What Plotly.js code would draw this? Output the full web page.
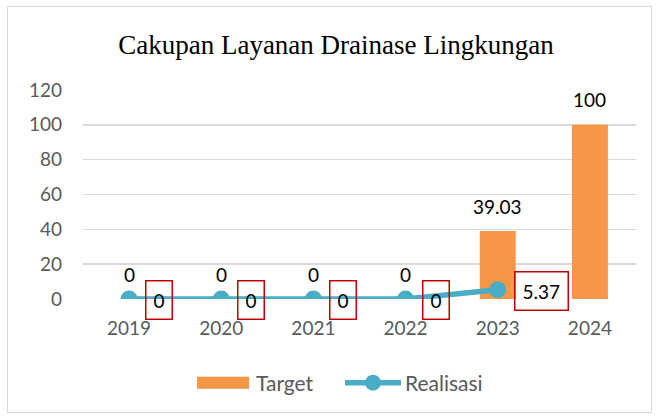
<!DOCTYPE html>
<html><head><meta charset="utf-8">
<script src="https://cdn.plot.ly/plotly-3.0.1.min.js"></script>
<style>
html,body{margin:0;padding:0;background:#fff;}
#wrap{position:relative;width:657px;height:419px;}
#chart{width:657px;height:419px;}
#frame{position:absolute;left:7px;top:6px;width:643px;height:405px;border:1.5px solid #d9d9d9;pointer-events:none;}
</style></head>
<body>
<div id="wrap"><div id="chart"></div><div id="frame"></div></div>
<script>
const years = ["2019","2020","2021","2022","2023","2024"];
const target = [0, 0, 0, 0, 39.03, 100];
const realisasi = [0, 0, 0, 0, 5.37];
const realisasiLabels = ["0","0","0","0","5.37"];
const targetLabels = ["0","0","0","0","39.03","100"];

const FONT = "Lato, 'Open Sans', sans-serif";
const ORANGE = '#F79646', BLUE = '#4BACC6';

const traces = [
  {type:'bar', name:'Target', x:years, y:target, width:0.39,
   marker:{color:ORANGE}},
  {type:'scatter', mode:'lines+markers', name:'Realisasi', x:years.slice(0,realisasi.length), y:realisasi,
   line:{color:BLUE, width:5.5}, marker:{color:BLUE, size:17}}
];

const annotations = [];
years.forEach((yr,i)=>{
  annotations.push({x:i, y:target[i], xref:'x', yref:'y', text:targetLabels[i], showarrow:false,
    yshift:25, font:{family:FONT, size:19, color:'#000'}});
});
realisasiLabels.forEach((t,i)=>{
  annotations.push({x:i, y:realisasi[i], xref:'x', yref:'y', text:t, showarrow:false,
    xanchor:'left', yanchor:'middle', xshift:16, yshift:-1,
    bordercolor:'#C00000', borderwidth:1.5, borderpad:7, bgcolor:'rgba(255,255,255,0)',
    font:{family:FONT, size:19, color:'#000'}});
});

const layout = {
  width:657, height:419,
  margin:{l:83, r:21, t:90, b:120},
  paper_bgcolor:'#fff', plot_bgcolor:'#fff',
  title:{text:'Cakupan Layanan Drainase Lingkungan', font:{family:"'Liberation Serif', 'Times New Roman', serif", size:27, color:'#000'},
    x:336/657, xanchor:'center', xref:'container', y:1-45/419, yanchor:'middle', yref:'container'},
  xaxis:{type:'category', categoryorder:'array', categoryarray:years, range:[-0.5,5.5], showgrid:false, zeroline:false, showline:false, ticks:'',
    tickfont:{family:FONT, size:19, color:'#595959'}, ticklabelstandoff:16},
  yaxis:{range:[0,120], dtick:20, showgrid:true, gridcolor:'#d9d9d9', gridwidth:1.5, zeroline:false, showline:false,
    ticks:'', tickfont:{family:FONT, size:19, color:'#595959'}, ticklabelstandoff:20},
  showlegend:true,
  legend:{orientation:'h', x:(346-83)/553, xanchor:'center', y:(299-383)/209, yanchor:'middle',
    font:{family:FONT, size:21, color:'#595959'}, itemwidth:49, entrywidth:85, traceorder:'normal'},
  annotations:annotations
};

function widenLegend(){
  const gd = document.getElementById('chart');
  const items = gd.querySelectorAll('.legend .traces');
  if (items.length < 2) return;
  items[0].querySelectorAll('.legendsymbols path, .legendpoints path').forEach(p=>{
    p.setAttribute('transform','translate(0,0)');
    p.setAttribute('d','M0,-6h52v12h-52z');
  });
  items[1].querySelectorAll('.legendlines path').forEach(p=>{
    p.setAttribute('d','M-1,0h56');
  });
  items[1].querySelectorAll('.legendsymbols path.scatterpts').forEach(p=>{
    p.setAttribute('transform','translate(27,0)');
  });
}
const gdEl = document.getElementById('chart');
Plotly.newPlot(gdEl, traces, layout, {displayModeBar:false, staticPlot:true}).then(()=>{
  widenLegend();
  gdEl.on('plotly_afterplot', widenLegend);
  setTimeout(widenLegend, 50);
});
</script>
</body></html>
